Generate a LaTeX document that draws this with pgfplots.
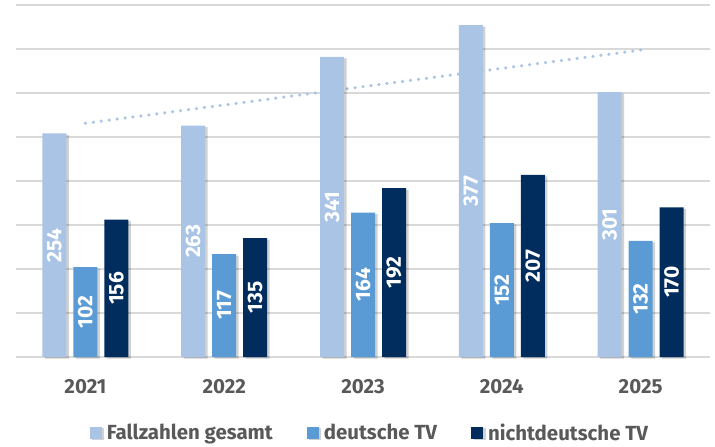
\documentclass[border=0pt]{standalone}
\usepackage{pgfplots}
\pgfplotsset{compat=1.18}
\usepackage{fontspec}
\setmainfont{Fira Sans}
\usetikzlibrary{shadows}
\definecolor{cLight}{HTML}{A9C4E5}
\definecolor{cMid}{HTML}{5B9BD5}
\definecolor{cDark}{HTML}{002D5E}
\definecolor{cText}{HTML}{595959}
\definecolor{cGrid}{HTML}{D9D9D9}
\pgfplotsset{
  barlabel/.style={
    nodes near coords,
    visualization depends on={y \as \rawy},
    every node near coord/.append style={shift={(axis direction cs:0,-\rawy/2)}, xshift=#1, rotate=90, anchor=center, text=white, font=\fontsize{21}{22}\selectfont\bfseries},
  },
  mybar/.style={ybar, bar width=24bp, draw=none, fill=#1,
    drop shadow={shadow xshift=2.5bp, shadow yshift=-1.5bp, fill=black, opacity=0.18},
    legend image code/.code={\fill[#1] (0bp,-6bp) rectangle (12bp,6bp);}},
}
\begin{document}
\begin{tikzpicture}
\useasboundingbox (-16bp,-90bp) rectangle (699bp,357bp);
\begin{axis}[
  at={(0,0)}, anchor=south west,
  scale only axis, width=694bp, height=352bp,
  xmin=0.5, xmax=5.5, ymin=0, ymax=400,
  xtick={1,2,3,4,5}, xticklabels={2021,2022,2023,2024,2025},
  ytick={0,50,...,400}, yticklabels={},
  major tick length=0pt,
  axis line style={draw=none},
  ymajorgrids, grid style={cGrid, line width=2bp},
  /pgf/number format/assume math mode=true,
  xticklabel style={font=\fontsize{20.5}{22}\selectfont\bfseries, text=cText, yshift=-19bp},
  legend columns=3,
  legend style={at={(0.51,-0.215)}, anchor=center, draw=none, fill=none,
    font=\fontsize{20.5}{22}\selectfont\bfseries, text=cText,
    /tikz/every odd column/.append style={column sep=3bp},
    /tikz/every even column/.append style={column sep=32bp}},
  clip=false,
]
\addplot[sharp plot, no marks, cLight, line width=3.5bp, line cap=round, dash pattern=on 0pt off 8bp, forget plot]
  coordinates {(1,265.6) (5,348.8)};
\addplot[mybar=cLight, bar shift=-31bp, barlabel=-31bp] coordinates {(1,254) (2,263) (3,341) (4,377) (5,301)};
\addplot[mybar=cMid, bar shift=0bp, barlabel=0bp] coordinates {(1,102) (2,117) (3,164) (4,152) (5,132)};
\addplot[mybar=cDark, bar shift=31bp, barlabel=31bp] coordinates {(1,156) (2,135) (3,192) (4,207) (5,170)};
\legend{Fallzahlen gesamt, deutsche TV, nichtdeutsche TV}
\end{axis}
\end{tikzpicture}
\end{document}
